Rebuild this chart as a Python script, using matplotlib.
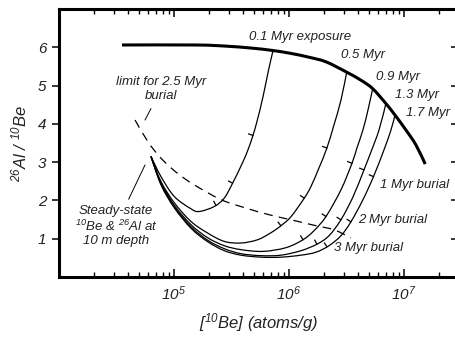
import numpy as np
import matplotlib
matplotlib.use("Agg")
import matplotlib.pyplot as plt
from matplotlib.ticker import LogLocator, NullFormatter, FixedLocator
from matplotlib.path import Path
from matplotlib.patches import PathPatch

plt.rcParams['font.family'] = ['Liberation Sans', 'DejaVu Sans']
plt.rcParams['font.style'] = 'italic'
plt.rcParams['mathtext.fontset'] = 'custom'
plt.rcParams['mathtext.rm'] = 'Liberation Sans:italic'
plt.rcParams['mathtext.it'] = 'Liberation Sans:italic'
plt.rcParams['mathtext.default'] = 'rm'

TXT = '#222222'

# ---- data (x as log10 of [10Be] atoms/g, y as 26Al/10Be) ----
exp_logN = [4.548, 5.191, 5.452, 5.670, 5.850, 6.017, 6.174, 6.322, 6.502, 6.626, 6.728, 6.843, 6.922, 7.017, 7.104, 7.185]
exp_ratio = [6.06, 6.06, 6.03, 5.98, 5.92, 5.84, 5.74, 5.62, 5.35, 5.14, 4.92, 4.53, 4.23, 3.84, 3.45, 2.95]

bur01_logN = [5.861, 5.822, 5.774, 5.725, 5.687, 5.643, 5.594, 5.510, 5.437, 5.350, 5.220, 5.148, 5.003, 4.887, 4.800]
bur01_ratio = [5.909, 5.401, 4.706, 4.100, 3.700, 3.318, 2.971, 2.451, 2.060, 1.841, 1.711, 1.781, 2.102, 2.622, 3.148]

bur05_logN = [6.502, 6.452, 6.391, 6.330, 6.261, 6.191, 6.133, 6.017, 5.930, 5.843, 5.728, 5.583, 5.437, 5.293, 5.148, 5.003, 4.887, 4.800]
bur05_ratio = [5.35, 4.620, 3.969, 3.370, 2.849, 2.362, 2.060, 1.573, 1.339, 1.156, 0.974, 0.888, 0.930, 1.148, 1.450, 1.938, 2.492, 3.148]

bur09_logN = [6.728, 6.687, 6.643, 6.591, 6.548, 6.452, 6.322, 6.217, 6.122, 5.974, 5.774, 5.583, 5.437, 5.293, 5.148, 5.003, 4.887, 4.800]
bur09_ratio = [4.92, 4.359, 3.839, 3.370, 2.971, 2.276, 1.581, 1.208, 0.974, 0.766, 0.669, 0.714, 0.818, 1.026, 1.365, 1.872, 2.458, 3.148]

bur13_logN = [6.843, 6.783, 6.713, 6.652, 6.557, 6.452, 6.348, 6.243, 6.104, 5.930, 5.757, 5.583, 5.437, 5.293, 5.148, 5.003, 4.887, 4.800]
bur13_ratio = [4.53, 3.839, 3.266, 2.797, 2.094, 1.495, 1.078, 0.857, 0.687, 0.570, 0.557, 0.609, 0.740, 0.961, 1.312, 1.833, 2.432, 3.148]

bur17_logN = [6.922, 6.887, 6.826, 6.735, 6.643, 6.539, 6.452, 6.348, 6.235, 6.104, 5.930, 5.757, 5.583, 5.437, 5.293, 5.148, 5.003, 4.887, 4.800]
bur17_ratio = [4.23, 3.839, 3.318, 2.622, 2.016, 1.443, 1.078, 0.818, 0.648, 0.570, 0.518, 0.518, 0.570, 0.688, 0.922, 1.273, 1.807, 2.406, 3.148]

# burial-time tick marks (1, 2, 3 Myr) on each curve
ticks01 = ([5.687, 5.510, 5.365], [3.700, 2.451, 1.872])
ticks05 = ([6.330, 6.133, 5.930], [3.370, 2.060, 1.339])
ticks09 = ([6.548, 6.322, 6.122], [2.971, 1.581, 0.974])
ticks13 = ([6.652, 6.452, 6.243], [2.797, 1.495, 0.857])
ticks17 = ([6.735, 6.539, 6.330], [2.622, 1.443, 0.790])

limit_logN = [4.661, 4.774, 4.870, 4.965, 5.061, 5.174, 5.409, 5.626, 5.829, 6.017, 6.220, 6.394, 6.539]
limit_ratio = [4.10, 3.53, 3.16, 2.875, 2.64, 2.41, 2.02, 1.80, 1.625, 1.495, 1.35, 1.23, 1.02]

exposure_labels = ['0.1 Myr exposure', '0.5 Myr', '0.9 Myr', '1.3 Myr', '1.7 Myr']
burial_labels = ['1 Myr burial', '2 Myr burial', '3 Myr burial']
ytick_vals = [1, 2, 3, 4, 5, 6]
xtick_vals = [1e5, 1e6, 1e7]
xtick_labels = ['$10^{5}$', '$10^{6}$', '$10^{7}$']

# ---- figure ----
fig = plt.figure(figsize=(4.55, 3.38), dpi=100)
ax = fig.add_axes([59/455, 1-277/338, 399/455, 268/338])
ax.set_xscale('log')
ax.set_xlim(1e4, 10**7.47)
ax.set_ylim(0, 7)

for s in ['left', 'bottom', 'top']:
    ax.spines[s].set_linewidth(2.2)
ax.spines['right'].set_visible(False)

ax.set_yticks(ytick_vals)
ax.set_yticklabels([str(v) for v in ytick_vals])
ax.tick_params(axis='y', which='major', direction='out', length=5, width=1.1,
               labelsize=11, pad=4, colors='black', labelcolor=TXT)
sec = ax.secondary_yaxis('right')
sec.spines['right'].set_visible(False)
sec.set_yticks(ytick_vals)
sec.tick_params(direction='in', length=5, width=1.1, labelright=False)

ax.xaxis.set_major_locator(FixedLocator([1e4] + xtick_vals))
ax.set_xticklabels([''] + xtick_labels)
ax.xaxis.set_minor_locator(LogLocator(base=10, subs=np.arange(2, 10)))
ax.xaxis.set_minor_formatter(NullFormatter())
ax.tick_params(axis='x', which='major', direction='in', length=6, width=1.1,
               top=True, labelsize=11, pad=5, labelcolor=TXT)
ax.tick_params(axis='x', which='minor', direction='in', length=3.5, width=1.0, top=True)

ax.set_xlabel('[$^{10}$Be] (atoms/g)', fontsize=12, color=TXT, labelpad=6)
ax.set_ylabel('$^{26}$Al / $^{10}$Be', fontsize=12, color=TXT, labelpad=6)


def smooth_line(lx, ly, **kw):
    """Draw a smooth (Catmull-Rom as cubic Bezier) line through the read points."""
    P = np.column_stack([np.asarray(lx, float), np.asarray(ly, float)])
    n = len(P)
    verts = [P[0]]
    codes = [Path.MOVETO]
    for i in range(n - 1):
        p0 = P[i - 1] if i > 0 else P[i]
        p1, p2 = P[i], P[i + 1]
        p3 = P[i + 2] if i + 2 < n else P[i + 1]
        c1 = p1 + (p2 - p0) / 6.0
        c2 = p2 - (p3 - p1) / 6.0
        verts += [c1, c2, p2]
        codes += [Path.CURVE4] * 3
    V = np.array(verts)
    V[:, 0] = 10 ** V[:, 0]
    patch = PathPatch(Path(V, codes), fill=False, transform=ax.transData, **kw)
    ax.add_patch(patch)
    return patch


smooth_line(exp_logN, exp_ratio, edgecolor='black', lw=2.2, capstyle='butt')
curves = [(bur01_logN, bur01_ratio, ticks01), (bur05_logN, bur05_ratio, ticks05),
          (bur09_logN, bur09_ratio, ticks09), (bur13_logN, bur13_ratio, ticks13),
          (bur17_logN, bur17_ratio, ticks17)]
for lx, ly, _ in curves:
    smooth_line(lx, ly, edgecolor='black', lw=0.9)
smooth_line(limit_logN, limit_ratio, edgecolor='black', lw=0.9, linestyle=(0, (7, 5)))

fig.canvas.draw()


def draw_ticks(lx, ly, tk, L=4.5):
    disp = ax.transData.transform(np.column_stack([10 ** np.asarray(lx, float), ly]))
    inv = ax.transData.inverted()
    for tx, ty in zip(*tk):
        p = ax.transData.transform((10 ** tx, ty))
        d = np.hypot(*(disp - p).T)
        i = int(np.argmin(d))
        i0, i1 = max(i - 1, 0), min(i + 1, len(disp) - 1)
        t = disp[i1] - disp[i0]
        t = t / np.hypot(*t)
        n = np.array([-t[1], t[0]])
        if -n[0] + n[1] < 0:
            n = -n
        q = inv.transform(p + n * L)
        ax.plot([10 ** tx, q[0]], [ty, q[1]], color='black', lw=0.9)


for lx, ly, tk in curves:
    draw_ticks(lx, ly, tk)

fs = 9.5
ax.text(10**5.652, 6.26, exposure_labels[0], fontsize=fs, color=TXT, va='center')
ax.text(10**6.452, 5.79, exposure_labels[1], fontsize=fs, color=TXT, va='center')
ax.text(10**6.757, 5.22, exposure_labels[2], fontsize=fs, color=TXT, va='center')
ax.text(10**6.922, 4.75, exposure_labels[3], fontsize=fs, color=TXT, va='center')
ax.text(10**7.017, 4.28, exposure_labels[4], fontsize=fs, color=TXT, va='center')
ax.text(10**6.791, 2.406, burial_labels[0], fontsize=fs, color=TXT, va='center')
ax.text(10**6.600, 1.495, burial_labels[1], fontsize=fs, color=TXT, va='center')
ax.text(10**6.391, 0.766, burial_labels[2], fontsize=fs, color=TXT, va='center')

ax.annotate('limit for 2.5 Myr\nburial', xy=(10**4.748, 4.099), xytext=(10**4.887, 4.906),
            fontsize=fs, color=TXT, ha='center', va='center', linespacing=1.2,
            arrowprops=dict(arrowstyle='-', color='black', lw=0.7, shrinkA=3, shrinkB=0))
ax.annotate('Steady-state\n$^{10}$Be & $^{26}$Al at\n10 m depth', xy=(10**4.748, 2.927),
            xytext=(10**4.496, 1.339),
            fontsize=fs, color=TXT, ha='center', va='center', linespacing=1.15,
            arrowprops=dict(arrowstyle='-', color='black', lw=0.7, shrinkA=2, shrinkB=0))

fig.savefig('out.png', dpi=100)
